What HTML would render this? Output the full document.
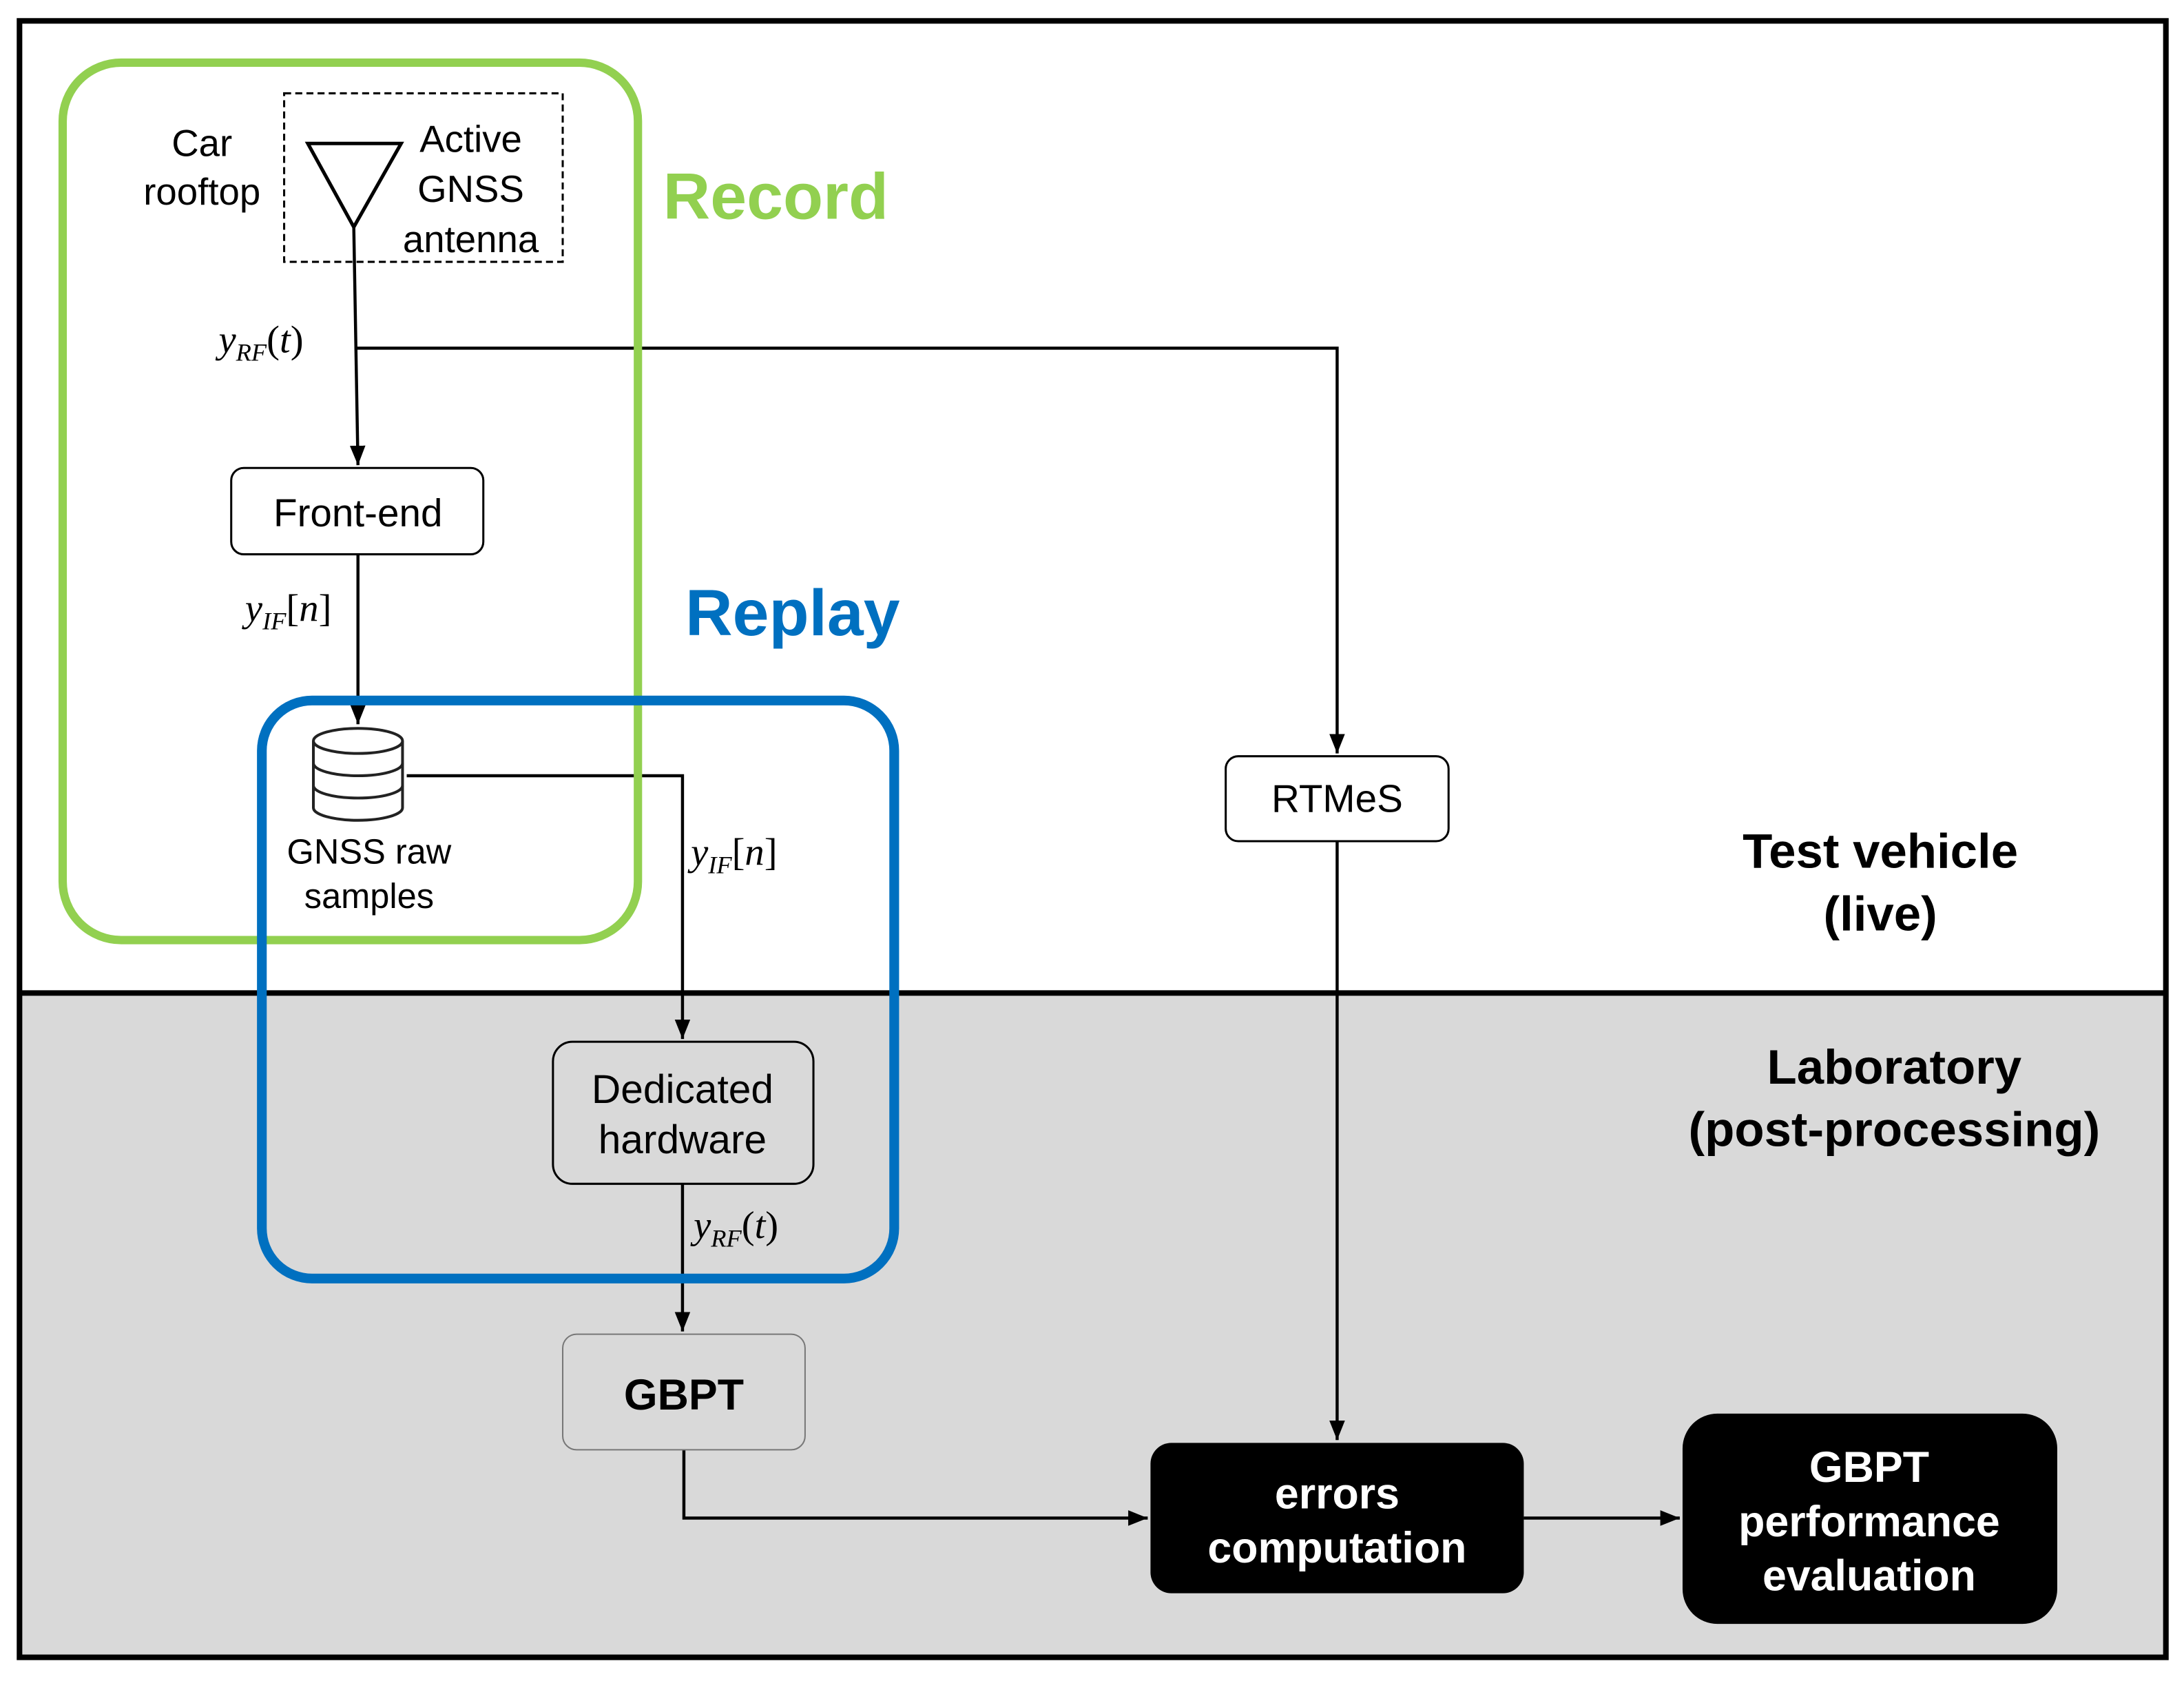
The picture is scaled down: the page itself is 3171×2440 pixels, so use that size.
<!DOCTYPE html>
<html><head><meta charset="utf-8"><style>
html,body{margin:0;padding:0;background:#fff;width:3171px;height:2440px;overflow:hidden}
svg{display:block}
text{font-family:"Liberation Sans",Arial,sans-serif}
.m{font-family:"Liberation Serif","DejaVu Serif",serif;font-style:italic}
.u{font-style:normal}
</style></head><body>
<svg width="3171" height="2440" viewBox="0 0 1568 1207" preserveAspectRatio="none" xmlns="http://www.w3.org/2000/svg">
<defs>
<marker id="b" viewBox="0 0 10 10" markerWidth="14" markerHeight="14" refX="10" refY="5" orient="auto" markerUnits="userSpaceOnUse"><path d="M0,1 L10,5 L0,9 Z" fill="#000"/></marker>
</defs>
<rect x="0" y="0" width="1568" height="1207" fill="#fff"/>
<rect x="14" y="713" width="1541" height="477" fill="#d9d9d9"/>
<rect x="14" y="15" width="1541" height="1175" fill="none" stroke="#000" stroke-width="4"/>
<line x1="14" y1="713" x2="1555" y2="713" stroke="#000" stroke-width="4"/>

<rect x="204" y="67" width="200" height="121" fill="none" stroke="#000" stroke-width="1.5" stroke-dasharray="5,3"/>
<path d="M221,103 L288,103 L254,163 Z" fill="#fff" stroke="#000" stroke-width="2.5"/>
<text x="145" y="112" font-size="27" text-anchor="middle">Car</text>
<text x="145" y="147" font-size="27" text-anchor="middle">rooftop</text>
<text x="338" y="109" font-size="27" text-anchor="middle">Active</text>
<text x="338" y="145" font-size="27" text-anchor="middle">GNSS</text>
<text x="338" y="181" font-size="27" text-anchor="middle">antenna</text>

<g stroke="#000" stroke-width="2.2" fill="none">
<path d="M254,163 L257,334" marker-end="url(#b)"/>
<path d="M256,250 L960,250 L960,541" marker-end="url(#b)"/>
<path d="M257,398 L257,520" marker-end="url(#b)"/>
<path d="M292,557 L490,557 L490,746" marker-end="url(#b)"/>
<path d="M490,850 L490,956" marker-end="url(#b)"/>
<path d="M491,1041 L491,1090 L824,1090" marker-end="url(#b)"/>
<path d="M960,604 L960,1034" marker-end="url(#b)"/>
<path d="M1094,1090 L1206,1090" marker-end="url(#b)"/>
</g>

<text x="157" y="253" class="m" font-size="28">y<tspan font-size="18" dy="6">RF</tspan><tspan dy="-6" class="u">(</tspan>t<tspan class="u">)</tspan></text>
<text x="176" y="446" class="m" font-size="28">y<tspan font-size="18" dy="6">IF</tspan><tspan dy="-6" class="u">[</tspan>n<tspan class="u">]</tspan></text>
<text x="496" y="621" class="m" font-size="28">y<tspan font-size="18" dy="6">IF</tspan><tspan dy="-6" class="u">[</tspan>n<tspan class="u">]</tspan></text>
<text x="498" y="889" class="m" font-size="28">y<tspan font-size="18" dy="6">RF</tspan><tspan dy="-6" class="u">(</tspan>t<tspan class="u">)</tspan></text>

<rect x="166" y="336" width="181" height="62" rx="9" fill="#fff" stroke="#000" stroke-width="1.5"/>
<text x="257" y="378" font-size="28" text-anchor="middle">Front-end</text>

<g stroke="#222" stroke-width="2" fill="#fff">
<path d="M225,532 L225,580 A32,9 0 0 0 289,580 L289,532"/>
<ellipse cx="257" cy="532" rx="32" ry="9"/>
<path d="M225,548 A32,9 0 0 0 289,548" fill="none"/>
<path d="M225,564 A32,9 0 0 0 289,564" fill="none"/>
</g>
<text x="265" y="620" font-size="25" text-anchor="middle">GNSS raw</text>
<text x="265" y="652" font-size="25" text-anchor="middle">samples</text>

<rect x="880" y="543" width="160" height="61" rx="9" fill="#fff" stroke="#000" stroke-width="1.5"/>
<text x="960" y="583" font-size="28" text-anchor="middle">RTMeS</text>

<rect x="397" y="748" width="187" height="102" rx="14" fill="#d9d9d9" stroke="#000" stroke-width="1.5"/>
<text x="490" y="792" font-size="29" text-anchor="middle">Dedicated</text>
<text x="490" y="828" font-size="29" text-anchor="middle">hardware</text>

<rect x="404" y="958" width="174" height="83" rx="10" fill="#d9d9d9" stroke="#777" stroke-width="1"/>
<text x="491" y="1012" font-size="31" font-weight="bold" text-anchor="middle">GBPT</text>

<rect x="826" y="1036" width="268" height="108" rx="15" fill="#000"/>
<text x="960" y="1083" font-size="31" font-weight="bold" fill="#fff" text-anchor="middle">errors</text>
<text x="960" y="1122" font-size="31" font-weight="bold" fill="#fff" text-anchor="middle">computation</text>

<rect x="1208" y="1015" width="269" height="151" rx="25" fill="#000"/>
<text x="1342" y="1064" font-size="31" font-weight="bold" fill="#fff" text-anchor="middle">GBPT</text>
<text x="1342" y="1103" font-size="31" font-weight="bold" fill="#fff" text-anchor="middle">performance</text>
<text x="1342" y="1142" font-size="31" font-weight="bold" fill="#fff" text-anchor="middle">evaluation</text>

<rect x="45" y="45" width="413" height="630" rx="42" fill="none" stroke="#92d050" stroke-width="6"/>
<rect x="188" y="503" width="454" height="415" rx="36" fill="none" stroke="#0070c0" stroke-width="7"/>

<text x="476" y="157" font-size="47" font-weight="bold" fill="#92d050">Record</text>
<text x="492" y="456" font-size="47" font-weight="bold" fill="#0070c0">Replay</text>

<text x="1350" y="623" font-size="35" font-weight="bold" text-anchor="middle">Test vehicle</text>
<text x="1350" y="668" font-size="35" font-weight="bold" text-anchor="middle">(live)</text>
<text x="1360" y="778" font-size="35" font-weight="bold" text-anchor="middle">Laboratory</text>
<text x="1360" y="823" font-size="35" font-weight="bold" text-anchor="middle">(post-processing)</text>
</svg>
</body></html>
